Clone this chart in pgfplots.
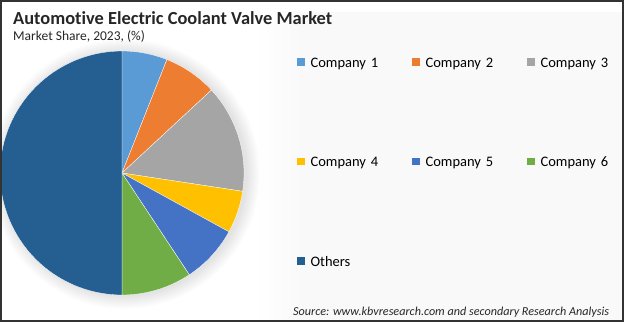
\documentclass[border=0pt]{standalone}
\usepackage{pgfplots}
\pgfplotsset{compat=1.18}
\usepackage{fontspec}
\setmainfont[Ligatures=NoCommon]{Carlito}
\definecolor{c1}{HTML}{5B9BD5}
\definecolor{c2}{HTML}{ED7D31}
\definecolor{c3}{HTML}{A5A5A5}
\definecolor{c4}{HTML}{FFC000}
\definecolor{c5}{HTML}{4472C4}
\definecolor{c6}{HTML}{70AD47}
\definecolor{c7}{HTML}{255E91}
\definecolor{bgr}{HTML}{F9F9F9}
% share of each company, in percent (clockwise from 12 o'clock)
\newcommand{\slice}[4]{%
  \pgfmathsetmacro{\angA}{90-3.6*#2}%
  \pgfmathsetmacro{\angB}{90-3.6*(#2+#3)}%
  \edef\temp{\noexpand\addplot[fill=#1, draw=white, line width=0.3pt, domain=\angB:\angA, samples=80, variable=\noexpand\t] ({cos(\noexpand\t)},{sin(\noexpand\t)}) -- (axis cs:0,0) -- cycle;}%
  \temp
  \addlegendentry{#4}%
}
\begin{document}
\begin{tikzpicture}
\useasboundingbox (0pt,0pt) rectangle (624pt,322pt);
\fill[white] (0pt,0pt) rectangle (624pt,322pt);
\fill[bgr] (300pt,2pt) rectangle (622pt,310pt);
\shade[left color=white, right color=bgr] (255pt,2pt) rectangle (300.5pt,310pt);
\foreach \k in {1,...,14} {\fill[black, opacity=0.009] (125pt,148pt) circle ({121pt+\k pt});}
\begin{axis}[
  hide axis, clip=false, scale only axis,
  width=244pt, height=244pt,
  xmin=-1, xmax=1, ymin=-1, ymax=1,
  at={(122pt,149pt)}, anchor=center,
  legend columns=3,
  legend cell align=left,
  legend image code/.code={\fill[#1, draw=none] (0pt,-3.65pt) rectangle (7.3pt,3.65pt);},
  legend style={at={(1.2184,0.9754)}, anchor=north west, draw=none, fill=none,
    inner sep=0pt, outer sep=0pt, row sep=89.5pt,
    nodes={inner sep=0pt, text height=10pt, text depth=0pt, text width=90pt, align=left,
      font=\fontsize{14.5}{16}\selectfont},
    /tikz/every odd column/.style={column sep=6pt},
    /tikz/every even column/.style={column sep=11.7pt}},
]
\slice{c1}{0}{6.0}{Company 1}
\slice{c2}{6.0}{7.1}{Company 2}
\slice{c3}{13.1}{14.3}{Company 3}
\slice{c4}{27.4}{5.6}{Company 4}
\slice{c5}{33.0}{7.7}{Company 5}
\slice{c6}{40.7}{9.3}{Company 6}
\slice{c7}{50.0}{50.0}{Others}
\end{axis}
\node[anchor=base west, inner sep=0pt, text=black!85] at (13pt,297pt) {\fontsize{18.4}{20}\selectfont\bfseries Automotive Electric Coolant Valve Market};
\node[anchor=base west, inner sep=0pt, text=black!85] at (13pt,281pt) {\fontsize{13.5}{15}\selectfont Market Share, 2023, (\%)};
\node[anchor=base west, inner sep=0pt, text=black!85] at (293pt,7pt) {\fontsize{12.15}{14}\selectfont\itshape Source: www.kbvresearch.com and secondary Research Analysis};
\draw[line width=2pt, black!80] (1pt,1pt) rectangle (623pt,321pt);
\end{tikzpicture}
\end{document}
